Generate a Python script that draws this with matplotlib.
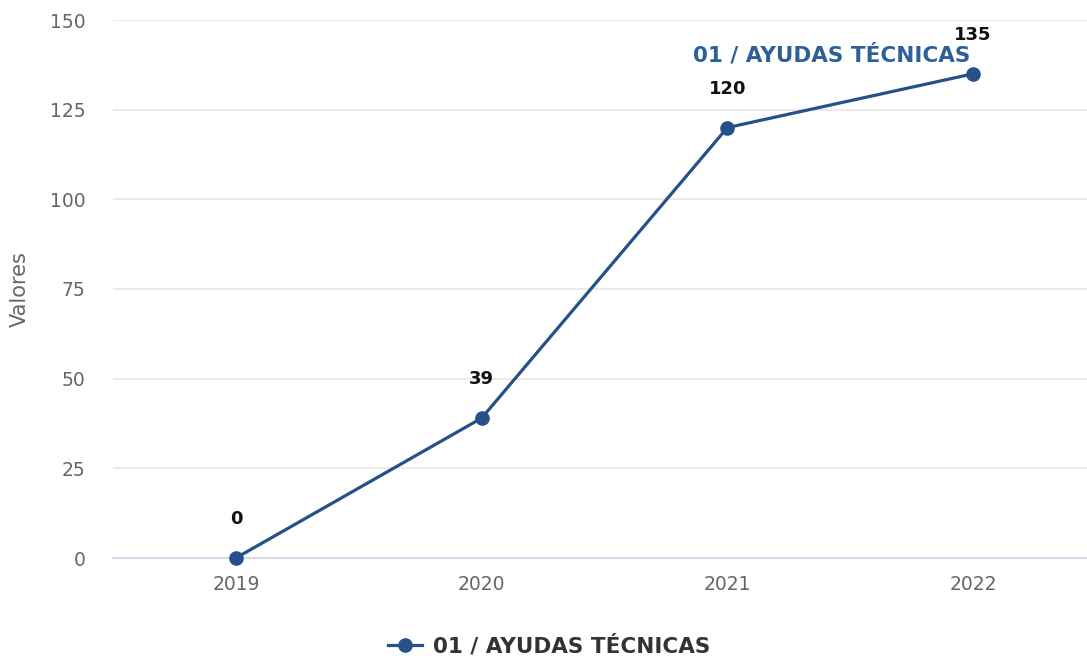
import matplotlib
matplotlib.use("Agg")
import matplotlib.pyplot as plt
from matplotlib.lines import Line2D

categories = ["2019", "2020", "2021", "2022"]
values = [0, 39, 120, 135]
series_name = "01 / AYUDAS TÉCNICAS"
y_ticks = [0, 25, 50, 75, 100, 125, 150]

line_color = "#245189"
plt.rcParams['font.family'] = ['DejaVu Sans']

fig = plt.figure(figsize=(10.87, 6.56), dpi=100)
ax = fig.add_axes([113/1087, 1 - 558/656, 983/1087, (558 - 20)/656])

x = list(range(len(categories)))
ax.plot(x, values, color=line_color, lw=2.3, marker="o", ms=9.5, zorder=3, clip_on=False)

for xi, v in zip(x, values):
    ax.annotate(str(v), (xi, v), xytext=(0, 28), textcoords="offset points",
                ha="center", va="center", fontsize=13, fontweight="bold", color="#111111")

ax.annotate(series_name, (x[-1], values[-1]), xytext=(-2, 14), textcoords="offset points",
            ha="right", va="center", fontsize=15.5, fontweight="bold", color="#2d5f98")

ax.set_xlim(-0.5, len(categories) - 0.5)
ax.set_ylim(0, 150)
ax.set_yticks(y_ticks)
ax.set_xticks(x)
ax.set_xticklabels(categories)
ax.tick_params(axis="both", length=0, labelsize=13.5, labelcolor="#666666")
ax.tick_params(axis="y", pad=20)
ax.tick_params(axis="x", pad=12)
ax.grid(axis="y", color="#e6e6e6", lw=1.2)
ax.set_axisbelow(True)
for s in ["top", "right", "left"]:
    ax.spines[s].set_visible(False)
ax.spines["bottom"].set_color("#ccd6eb")
ax.spines["bottom"].set_linewidth(1.2)

fig.text(20/1087, 1 - 289/656, "Valores", rotation=90, ha="center", va="center",
         fontsize=15, color="#666666")

handle = Line2D([0], [0], color=line_color, lw=2.3, marker="o", ms=9.5)
leg = fig.legend([handle], [series_name], loc="center", bbox_to_anchor=(549/1087, 1 - 646/656),
                 frameon=False, handlelength=1.6, handletextpad=0.5,
                 prop={"size": 15.5, "weight": "bold"})
for t in leg.get_texts():
    t.set_color("#333333")

fig.savefig("out.png", dpi=100)
